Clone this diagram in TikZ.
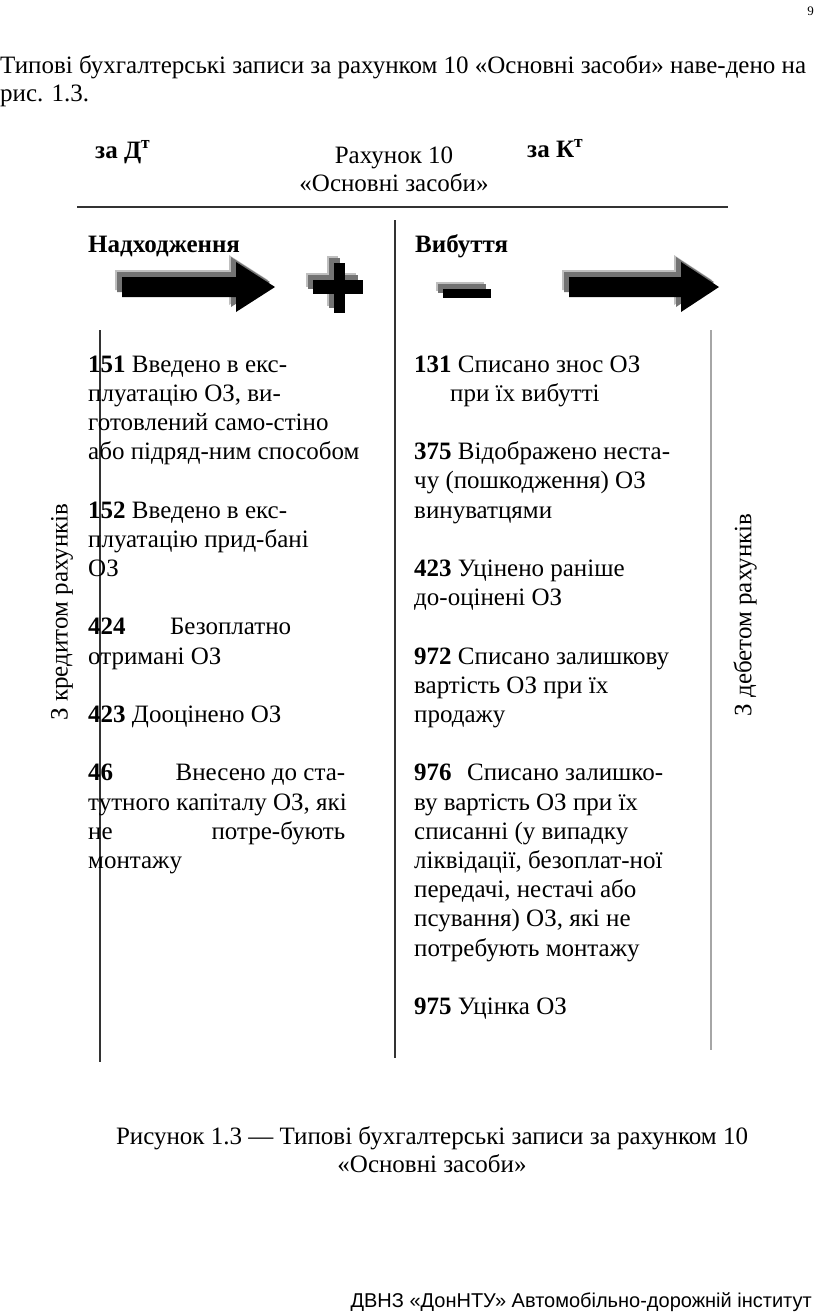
\documentclass[tikz,border=0pt]{standalone}
\usepackage{fontspec}
\setmainfont{Liberation Serif}
\newfontfamily\footfont{Liberation Sans}
\begin{document}
\begin{tikzpicture}[x=1pt,y=-1pt,
  txt/.style={anchor=base west, inner sep=0pt, font=\fontsize{25}{29.2}\selectfont},
  ctxt/.style={anchor=base, inner sep=0pt, font=\fontsize{25}{29.2}\selectfont},
  rlab/.style={anchor=center, inner sep=0pt, rotate=90, font=\fontsize{25}{29.2}\selectfont},
  rule/.style={draw=black!80, line width=1.6pt},
  grule/.style={draw=black!35, line width=1.6pt},
  blk/.style={fill=black},
  shd/.style={fill=black!55},
  shd2/.style={fill=black!25}]
\useasboundingbox (0,0) rectangle (816,1312);
% page number
\node[anchor=base east, inner sep=0pt, font=\fontsize{13}{15}\selectfont] (pg) at (814,15) {9};
% intro paragraph
\node[txt] (p1) at (0,73) {Типові бухгалтерські записи за рахунком 10 «Основні засоби» наве-дено на};
\node[txt] (p2) at (0,101) {рис. 1.3.};
% header
\node[txt] (zd) at (95,158) {\textbf{за Д\textsuperscript{т}}};
\node[ctxt] (rah) at (394,163) {Рахунок 10};
\node[ctxt] (os) at (394,191) {«Основні засоби»};
\node[txt] (zk) at (527,157) {\textbf{за К\textsuperscript{т}}};
% rules
\coordinate (hA) at (77,207);
\coordinate (hB) at (728,207);
\draw[rule] (hA) -- (hB);
\coordinate (mA) at (395,220);
\coordinate (mB) at (395,1058);
\draw[rule, line width=1.3pt] (mA) -- (mB);
\coordinate (lA) at (100,330);
\coordinate (lB) at (100,1062);
\draw[rule, line width=1.3pt] (lA) -- (lB);
\coordinate (rA) at (711,330);
\coordinate (rB) at (711,1050);
\draw[grule] (rA) -- (rB);
% column heads
\node[txt] (nad) at (88,252) {\textbf{Надходження}};
\node[txt] (vyb) at (415,252) {\textbf{Вибуття}};
% arrow 1
\foreach \dx/\st in {-7/shd2,-5/shd,0/blk}{
  \fill[\st] (122+\dx,277+\dx) -- (236+\dx,277+\dx) -- (236+\dx,262+\dx) -- (275+\dx,287+\dx)
    -- (236+\dx,312+\dx) -- (236+\dx,297+\dx) -- (122+\dx,297+\dx) -- cycle;
  \fill[\st] (569+\dx,277+\dx) -- (681+\dx,277+\dx) -- (681+\dx,262+\dx) -- (719+\dx,287+\dx)
    -- (681+\dx,312+\dx) -- (681+\dx,297+\dx) -- (569+\dx,297+\dx) -- cycle;
  \fill[\st] (334+\dx,263+\dx) rectangle (345+\dx,313+\dx);
  \fill[\st] (313+\dx,280+\dx) rectangle (363+\dx,294+\dx);
  \fill[\st] (443+\dx,289+\dx) rectangle (491+\dx,298+\dx);
}
% left column
\foreach \k/\mytext [count=\i] in {
  0/{\textbf{151} Введено в екс-},
  1/{плуатацію ОЗ, ви-},
  2/{готовлений само-стіно},
  3/{або підряд-ним способом},
  5/{\textbf{152} Введено в екс-},
  6/{плуатацію прид-бані},
  7/{ОЗ},
  9/{\makebox[203pt][l]{\textbf{424}\hfill Безоплатно}},
  10/{отримані ОЗ},
  12/{\textbf{423} Дооцінено ОЗ},
  14/{\makebox[257pt][l]{\textbf{46}\hfill Внесено до ста-}},
  15/{\makebox[257pt][l]{тутного капіталу ОЗ, які}},
  16/{\makebox[257pt][l]{не\hfill потре-бують}},
  17/{монтажу}}{
  \node[txt] (L\i) at (88,372+29.2*\k) {\mytext};
}
% right column
\foreach \k/\xx/\mytext [count=\i] in {
  0/414/{\textbf{131} Списано знос ОЗ},
  1/450/{при їх вибутті},
  3/414/{\textbf{375} Відображено неста-},
  4/414/{чу (пошкодження) ОЗ},
  5/414/{винуватцями},
  7/414/{\textbf{423} Уцінено раніше},
  8/414/{до-оцінені ОЗ},
  10/414/{\textbf{972} Списано залишкову},
  11/414/{вартість ОЗ при їх},
  12/414/{продажу},
  14/414/{\makebox[249pt][l]{\textbf{976}\hfill Списано залишко-}},
  15/414/{ву вартість ОЗ при їх},
  16/414/{списанні (у випадку},
  17/414/{ліквідації, безоплат-ної},
  18/414/{передачі, нестачі або},
  19/414/{псування) ОЗ, які не},
  20/414/{потребують монтажу},
  22/414/{\textbf{975} Уцінка ОЗ}}{
  \node[txt] (R\i) at (\xx,372+29.2*\k) {\mytext};
}
% side labels
\node[rlab] (kred) at (62,612) {З кредитом рахунків};
\node[rlab] (deb) at (745,615) {З дебетом рахунків};
% caption
\node[ctxt] (c1) at (432,1144) {Рисунок 1.3 — Типові бухгалтерські записи за рахунком 10};
\node[ctxt] (c2) at (432,1172) {«Основні засоби»};
% footer
\node[anchor=base east, inner sep=0pt, font=\footfont\fontsize{20}{24}\selectfont] (ft) at (812,1307) {ДВНЗ «ДонНТУ» Автомобільно-дорожній інститут};
\end{tikzpicture}
\end{document}
